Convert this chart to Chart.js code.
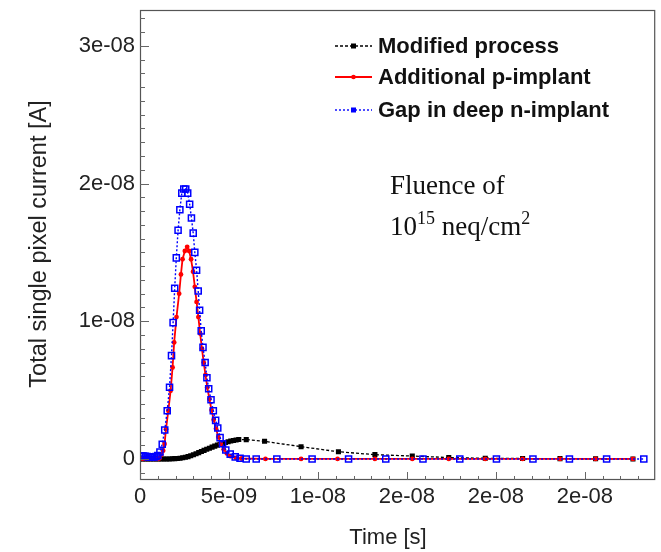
<!DOCTYPE html>
<html>
<head>
<meta charset="utf-8">
<script src="https://cdn.jsdelivr.net/npm/chart.js@4.4.1/dist/chart.umd.min.js"></script>
<style>
  html, body { margin: 0; padding: 0; background: #fff; }
  #wrap { width: 661px; height: 552px; }
</style>
</head>
<body>
<div id="wrap"><canvas id="js-current-chart" width="661" height="552"></canvas></div>
<script>
// time in ns, current in nA (1e-9 A)
const timeModified = [0, 0.15, 0.3, 0.45, 0.6, 0.75, 0.9, 1.05, 1.2, 1.35, 1.5, 1.65, 1.8, 1.95, 2.1, 2.25, 2.4, 2.55, 2.7, 2.85, 3.0, 3.15, 3.3, 3.45, 3.6, 3.75, 3.9, 4.05, 4.2, 4.35, 4.5, 4.65, 4.8, 4.95, 5.1, 5.25, 5.4, 5.55, 5.97, 7.0, 9.05, 11.15, 13.2, 15.3, 17.35, 19.4, 21.5, 23.6, 25.6, 27.7];
const currentModified = [0, 0, 0, 0, 0, 0, 0, 0, 0, 0, 0, 0, 0.01, 0.02, 0.03, 0.05, 0.08, 0.12, 0.17, 0.23, 0.3, 0.38, 0.46, 0.54, 0.62, 0.7, 0.78, 0.86, 0.93, 1.0, 1.07, 1.13, 1.19, 1.25, 1.3, 1.34, 1.38, 1.41, 1.4, 1.28, 0.89, 0.52, 0.31, 0.21, 0.1, 0.05, 0.03, 0.02, 0.01, 0];

const timePImplant = [0, 0.2, 0.4, 0.6, 0.8, 1.0, 1.1, 1.2, 1.3, 1.38, 1.46, 1.59, 1.72, 1.83, 1.92, 2.05, 2.2, 2.3, 2.39, 2.52, 2.65, 2.76, 2.87, 2.98, 3.08, 3.18, 3.28, 3.38, 3.48, 3.58, 3.68, 3.78, 3.9, 4.02, 4.14, 4.27, 4.4, 4.54, 4.7, 4.88, 5.08, 5.38, 5.7, 7.05, 9.05, 11.1, 13.2, 15.3, 17.35, 19.4, 21.5, 23.6, 25.6, 27.7];
const currentPImplant = [0, 0, 0, 0, 0, 0, 0.05, 0.3, 0.6, 1.09, 2.16, 3.49, 4.95, 6.64, 8.46, 10.3, 12.0, 13.4, 14.5, 15.1, 15.4, 15.1, 14.5, 13.6, 12.5, 11.4, 10.3, 9.1, 8.0, 7.0, 6.1, 5.2, 4.35, 3.55, 2.85, 2.2, 1.6, 1.1, 0.7, 0.4, 0.2, 0.08, 0.03, 0, 0, 0, 0, 0, 0, 0, 0, 0, 0, 0];

const timeGap = [0, 0.1, 0.2, 0.3, 0.4, 0.5, 0.6, 0.7, 0.8, 0.9, 1.0, 1.12, 1.25, 1.39, 1.53, 1.66, 1.77, 1.86, 1.95, 2.04, 2.14, 2.24, 2.35, 2.46, 2.57, 2.68, 2.79, 2.89, 2.99, 3.08, 3.18, 3.27, 3.35, 3.44, 3.54, 3.66, 3.76, 3.86, 3.99, 4.12, 4.25, 4.37, 4.5, 4.64, 4.82, 5.07, 5.35, 5.62, 5.97, 6.53, 7.69, 9.67, 11.72, 13.81, 15.9, 17.97, 20.03, 22.08, 24.13, 26.22, 28.31];
const currentGap = [0.2, 0.22, 0.21, 0.19, 0.17, 0.15, 0.14, 0.14, 0.15, 0.18, 0.25, 0.5, 1.07, 2.1, 3.5, 5.2, 7.5, 9.9, 12.4, 14.6, 16.6, 18.1, 19.3, 19.6, 19.6, 19.3, 18.5, 17.5, 16.4, 15.0, 13.7, 12.2, 10.8, 9.3, 8.1, 7.0, 5.9, 5.1, 4.3, 3.5, 2.8, 2.25, 1.55, 1.1, 0.65, 0.35, 0.15, 0.05, 0, 0, 0, 0, 0, 0, 0, 0, 0, 0, 0, 0, 0];

const seriesNames = ['Modified process', 'Additional p-implant', 'Gap in deep n-implant'];

const xTickValues = [0, 5, 10, 15, 20, 25];
const xTickLabels = ['0', '5e-09', '1e-08', '2e-08', '2e-08', '2e-08'];
const yTickValues = [0, 10, 20, 30];
const yTickLabels = ['0', '1e-08', '2e-08', '3e-08'];

function toPoints(xs, ys) {
  return xs.map((x, i) => ({ x: x, y: ys[i] }));
}

const SANS = '"Liberation Sans", Arial, sans-serif';
const SERIF = '"Liberation Serif", "Times New Roman", serif';

const datasets = [
  {
    label: seriesNames[0],
    data: toPoints(timeModified, currentModified),
    borderColor: '#000',
    backgroundColor: '#000',
    borderWidth: 1.3,
    borderDash: [3, 2],
    pointStyle: 'rect',
    pointRadius: 3.6,
    pointBorderWidth: 0,
    order: 3
  },
  {
    label: seriesNames[1],
    data: toPoints(timePImplant, currentPImplant),
    borderColor: '#ff0000',
    backgroundColor: '#ff0000',
    borderWidth: 1.8,
    pointStyle: 'circle',
    pointRadius: 2.4,
    pointBorderWidth: 0,
    order: 2
  },
  {
    label: seriesNames[2],
    data: toPoints(timeGap, currentGap),
    borderColor: '#0000ff',
    backgroundColor: 'rgba(0,0,0,0)',
    borderWidth: 1.4,
    borderDash: [2, 2],
    pointStyle: 'rect',
    pointRadius: 4.3,
    pointBorderWidth: 1.5,
    pointBorderColor: '#0000ff',
    pointBackgroundColor: 'rgba(0,0,0,0)',
    order: 1
  }
];

// ROOT風のフレームと内向きの目盛り、凡例、注記
const rootDecor = {
  id: 'rootDecor',
  afterDraw(chart) {
    const { ctx, chartArea: { left, right, top, bottom } } = chart;
    const xs = chart.scales.x;
    const ys = chart.scales.y;
    ctx.save();

    // frame
    ctx.strokeStyle = '#555';
    ctx.lineWidth = 1.2;
    ctx.strokeRect(left + 0.5, top + 0.5, right - left - 1, bottom - top - 1);

    // y ticks
    ctx.strokeStyle = '#666';
    ctx.lineWidth = 1;
    for (let v = -1; v <= 32; v++) {
      const py = Math.round(ys.getPixelForValue(v)) + 0.5;
      const len = v % 10 === 0 ? 9 : 5;
      ctx.beginPath();
      ctx.moveTo(left, py);
      ctx.lineTo(left + len, py);
      ctx.stroke();
    }
    // x ticks
    for (let v = 0; v <= 28; v++) {
      const px = Math.round(xs.getPixelForValue(v)) + 0.5;
      const len = v % 5 === 0 ? 8 : 4;
      ctx.beginPath();
      ctx.moveTo(px, bottom);
      ctx.lineTo(px, bottom - len);
      ctx.stroke();
    }

    // axis titles
    ctx.fillStyle = '#222';
    ctx.font = '22px ' + SANS;
    ctx.textAlign = 'center';
    ctx.textBaseline = 'middle';
    ctx.fillText('Time [s]', 388, 538);
    ctx.save();
    ctx.translate(40, 244);
    ctx.rotate(-Math.PI / 2);
    ctx.font = '23.5px ' + SANS;
    ctx.fillText('Total single pixel current [A]', 0, 0);
    ctx.restore();

    // legend
    const legendY = [46, 77, 110];
    chart.data.datasets.forEach((ds, i) => {
      const y = legendY[i];
      ctx.save();
      ctx.strokeStyle = ds.borderColor;
      ctx.lineWidth = ds.borderWidth;
      ctx.setLineDash(ds.borderDash || []);
      ctx.beginPath();
      ctx.moveTo(335, y);
      ctx.lineTo(372, y);
      ctx.stroke();
      ctx.setLineDash([]);
      ctx.fillStyle = ds.borderColor;
      if (ds.pointStyle === 'circle') {
        ctx.beginPath();
        ctx.arc(353.5, y, 2.3, 0, Math.PI * 2);
        ctx.fill();
      } else {
        ctx.fillRect(351, y - 2.5, 5, 5);
      }
      ctx.restore();
      ctx.fillStyle = '#111';
      ctx.font = 'bold 22px ' + SANS;
      ctx.textAlign = 'left';
      ctx.textBaseline = 'middle';
      ctx.fillText(ds.label, 378, y + 1);
    });

    // fluence note
    ctx.fillStyle = '#111';
    ctx.textAlign = 'left';
    ctx.textBaseline = 'alphabetic';
    ctx.font = '27px ' + SERIF;
    ctx.fillText('Fluence of', 390, 194);
    let x = 390;
    const base = 235;
    ctx.fillText('10', x, base);
    x += ctx.measureText('10').width;
    ctx.font = '18px ' + SERIF;
    ctx.fillText('15', x, base - 11);
    x += ctx.measureText('15').width;
    ctx.font = '27px ' + SERIF;
    ctx.fillText(' neq/cm', x, base);
    x += ctx.measureText(' neq/cm').width;
    ctx.font = '18px ' + SERIF;
    ctx.fillText('2', x, base - 11);

    ctx.restore();
  }
};

const ctx = document.getElementById('js-current-chart').getContext('2d');

const currentChart = new Chart(ctx, {
  type: 'line',
  data: { datasets: datasets },
  options: {
    responsive: false,
    devicePixelRatio: 1,
    animation: false,
    layout: { padding: { top: 10, right: 4, left: 0, bottom: 0 } },
    plugins: {
      legend: { display: false },
      tooltip: { enabled: false }
    },
    elements: { line: { tension: 0 } },
    scales: {
      x: {
        type: 'linear',
        min: 0,
        max: 28.95,
        grid: { display: false, drawTicks: false },
        border: { display: false },
        afterFit(scale) {
          scale.height = 72;
          scale.paddingLeft = 0;
          scale.paddingRight = 0;
        },
        ticks: {
          stepSize: 5,
          includeBounds: false,
          autoSkip: false,
          maxRotation: 0,
          padding: 4,
          color: '#222',
          font: { family: SANS, size: 22 },
          callback(value) {
            const i = xTickValues.indexOf(Math.round(value * 1000) / 1000);
            return i >= 0 ? xTickLabels[i] : '';
          }
        }
      },
      y: {
        type: 'linear',
        min: -1.53,
        max: 32.6,
        grid: { display: false, drawTicks: false },
        border: { display: false },
        afterFit(scale) {
          scale.width = 140;
          scale.paddingTop = 0;
          scale.paddingBottom = 0;
        },
        ticks: {
          stepSize: 10,
          includeBounds: false,
          autoSkip: false,
          padding: 5,
          color: '#222',
          font: { family: SANS, size: 22 },
          callback(value) {
            const i = yTickValues.indexOf(Math.round(value * 1000) / 1000);
            return i >= 0 ? yTickLabels[i] : '';
          }
        }
      }
    }
  },
  plugins: [rootDecor]
});
</script>
</body>
</html>
